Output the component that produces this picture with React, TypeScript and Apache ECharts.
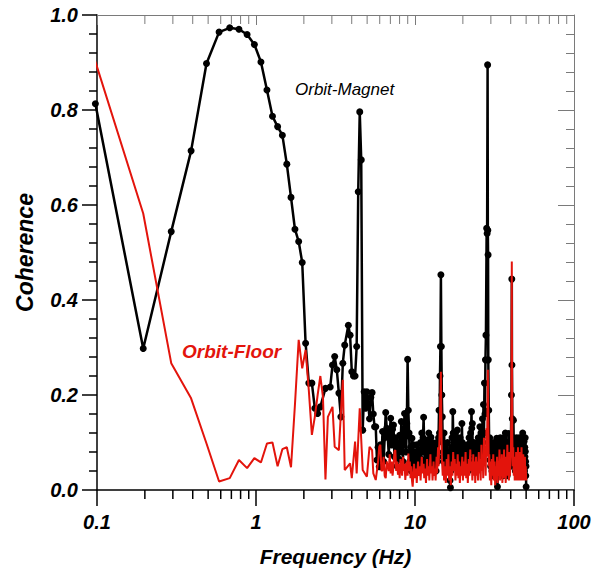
import React, { useEffect, useRef } from "react";
import * as echarts from "echarts";

// Frequency resolution of the spectra (Hz per bin)
const FREQ_STEP_HZ = 0.09766;

const xTickLabels = ["0.1", "1", "10", "100"];
const yTickLabels = ["0.0", "0.2", "0.4", "0.6", "0.8", "1.0"];
const minorFreqTicks = [
  0.2, 0.3, 0.4, 0.5, 0.6, 0.7, 0.8, 0.9,
  2, 3, 4, 5, 6, 7, 8, 9,
  20, 30, 40, 50, 60, 70, 80, 90,
];

// [frequency bin, coherence]
const orbitMagnet: [number, number][] = [
  [1, 0.813], [2, 0.298], [3, 0.544], [4, 0.714], [5, 0.898], [6, 0.964], [7, 0.973], [8, 0.970],
  [9, 0.959], [10, 0.938], [11, 0.901], [12, 0.842], [13, 0.787], [14, 0.765], [15, 0.747], [16, 0.686],
  [17, 0.616], [18, 0.549], [19, 0.523], [20, 0.479], [21, 0.309], [22, 0.225], [23, 0.225], [24, 0.172],
  [25, 0.161], [26, 0.175], [28, 0.214], [30, 0.217], [31, 0.263], [32, 0.281], [33, 0.253], [34, 0.204],
  [35, 0.154], [36, 0.267], [37, 0.305], [39, 0.347], [40, 0.326], [41, 0.249], [42, 0.240], [43, 0.240],
  [44, 0.302], [45, 0.628], [46, 0.796], [47, 0.695], [48, 0.126], [49, 0.207], [50, 0.172], [51, 0.207],
  [52, 0.182], [53, 0.150], [54, 0.195], [55, 0.205], [56, 0.160], [57, 0.133], [58, 0.133], [59, 0.063],
  [60, 0.090], [61, 0.049], [62, 0.095], [63, 0.070], [64, 0.123], [65, 0.060], [66, 0.110], [67, 0.163],
  [68, 0.130], [69, 0.112], [70, 0.075], [71, 0.120], [72, 0.151], [73, 0.095], [74, 0.128], [75, 0.137],
  [76, 0.070], [77, 0.110], [78, 0.091], [79, 0.050], [80, 0.100], [81, 0.065], [82, 0.115], [83, 0.080],
  [84, 0.144], [85, 0.100], [86, 0.060], [87, 0.120], [88, 0.161], [89, 0.112], [90, 0.080], [91, 0.140],
  [92, 0.275], [93, 0.168], [94, 0.120], [95, 0.060], [96, 0.090], [97, 0.040], [98, 0.109], [99, 0.070],
  [100, 0.095], [101, 0.045], [102, 0.080], [103, 0.050], [104, 0.070], [105, 0.095], [106, 0.040], [107, 0.075],
  [108, 0.060], [109, 0.084], [110, 0.045], [111, 0.100], [112, 0.065], [113, 0.120], [114, 0.080], [115, 0.110],
  [116, 0.153], [117, 0.090], [118, 0.060], [119, 0.100], [120, 0.050], [121, 0.080], [122, 0.105], [123, 0.060],
  [124, 0.090], [125, 0.120], [126, 0.070], [127, 0.060], [128, 0.095], [129, 0.111], [130, 0.070], [131, 0.050],
  [132, 0.100], [133, 0.055], [134, 0.085], [135, 0.090], [136, 0.050], [137, 0.080], [138, 0.070], [139, 0.040],
  [140, 0.085], [141, 0.100], [142, 0.060], [143, 0.070], [144, 0.110], [145, 0.168], [146, 0.120], [147, 0.240],
  [148, 0.302], [149, 0.453], [150, 0.302], [151, 0.200], [152, 0.154], [153, 0.100], [154, 0.080], [155, 0.060],
  [156, 0.120], [157, 0.090], [158, 0.060], [159, 0.080], [160, 0.098], [161, 0.070], [162, 0.050], [163, 0.075],
  [164, 0.100], [165, 0.060], [166, 0.040], [167, 0.080], [168, 0.070], [169, 0.040], [170, 0.020], [171, 0.005],
  [172, 0.040], [173, 0.060], [174, 0.090], [175, 0.110], [176, 0.080], [177, 0.165], [178, 0.120], [179, 0.090],
  [180, 0.070], [181, 0.060], [182, 0.100], [183, 0.119], [184, 0.080], [185, 0.070], [186, 0.050], [187, 0.100],
  [188, 0.090], [189, 0.126], [190, 0.080], [191, 0.060], [192, 0.070], [193, 0.100], [194, 0.060], [195, 0.040],
  [196, 0.070], [197, 0.110], [198, 0.080], [199, 0.070], [200, 0.050], [202, 0.140], [203, 0.100], [204, 0.080],
  [205, 0.060], [206, 0.050], [208, 0.080], [209, 0.091], [210, 0.060], [211, 0.040], [213, 0.090], [214, 0.075],
  [215, 0.060], [216, 0.050], [218, 0.095], [219, 0.081], [220, 0.060], [221, 0.040], [223, 0.080], [224, 0.110],
  [225, 0.080], [226, 0.060], [228, 0.100], [229, 0.120], [230, 0.090], [232, 0.165], [233, 0.130], [234, 0.100],
  [235, 0.140], [236, 0.090], [238, 0.060], [239, 0.080], [240, 0.100], [242, 0.070], [243, 0.040], [245, 0.080],
  [246, 0.070], [248, 0.050], [249, 0.080], [250, 0.098], [252, 0.070], [253, 0.060], [255, 0.090], [256, 0.110],
  [258, 0.080], [259, 0.070], [261, 0.100], [262, 0.133], [263, 0.100], [264, 0.080], [266, 0.120], [267, 0.110],
  [268, 0.080], [269, 0.060], [271, 0.110], [272, 0.150], [274, 0.100], [276, 0.180], [278, 0.120], [280, 0.225],
  [282, 0.160], [284, 0.274], [286, 0.326], [289, 0.551], [291, 0.540], [293, 0.895], [294, 0.547], [295, 0.495],
  [296, 0.274], [298, 0.168], [300, 0.090], [302, 0.110], [303, 0.063], [305, 0.080], [306, 0.050], [308, 0.090],
  [309, 0.100], [311, 0.070], [312, 0.040], [314, 0.080], [315, 0.063], [317, 0.090], [318, 0.030], [320, 0.070],
  [321, 0.080], [323, 0.100], [324, 0.050], [326, 0.070], [327, 0.090], [329, 0.060], [330, 0.040], [332, 0.090],
  [334, 0.109], [336, 0.050], [338, 0.007], [340, 0.050], [341, 0.060], [343, 0.100], [344, 0.090], [346, 0.060],
  [347, 0.040], [349, 0.090], [350, 0.080], [352, 0.110], [355, 0.105], [357, 0.070], [358, 0.050], [360, 0.090],
  [362, 0.070], [364, 0.100], [366, 0.030], [368, 0.070], [370, 0.080], [372, 0.110], [374, 0.050], [376, 0.090],
  [377, 0.081], [379, 0.120], [381, 0.040], [383, 0.080], [385, 0.070], [387, 0.100], [389, 0.030], [391, 0.090],
  [393, 0.080], [395, 0.100], [398, 0.119], [400, 0.080], [401, 0.060], [403, 0.100], [405, 0.090], [407, 0.070],
  [408, 0.050], [410, 0.080], [411, 0.110], [414, 0.200], [416, 0.444], [417, 0.263], [419, 0.150], [421, 0.100],
  [422, 0.080], [424, 0.110], [426, 0.147], [428, 0.090], [430, 0.060], [432, 0.080], [434, 0.100], [436, 0.070],
  [438, 0.040], [440, 0.080], [442, 0.080], [444, 0.110], [446, 0.050], [448, 0.090], [450, 0.081], [452, 0.063],
  [454, 0.100], [456, 0.040], [458, 0.080], [460, 0.090], [462, 0.110], [464, 0.050], [466, 0.070], [468, 0.080],
  [470, 0.100], [472, 0.030], [474, 0.080], [476, 0.070], [478, 0.110], [480, 0.040], [482, 0.090], [485, 0.080],
  [487, 0.120], [489, 0.105], [491, 0.070], [493, 0.060], [495, 0.090], [497, 0.102], [499, 0.070], [500, 0.040],
  [502, 0.090], [503, 0.070], [505, 0.110], [506, 0.081], [508, 0.060], [509, 0.030], [511, 0.050], [512, 0.007],
];

// [frequency bin, coherence]
const orbitFloor: [number, number][] = [
  [1, 0.902], [2, 0.582], [3, 0.267], [4, 0.193], [5, 0.098], [6, 0.018], [7, 0.025], [8, 0.063],
  [9, 0.046], [10, 0.067], [11, 0.058], [12, 0.098], [13, 0.100], [14, 0.050], [15, 0.086], [16, 0.090],
  [17, 0.048], [18, 0.180], [19, 0.316], [20, 0.256], [21, 0.295], [22, 0.210], [23, 0.116], [24, 0.154],
  [25, 0.200], [26, 0.240], [27, 0.196], [28, 0.022], [29, 0.154], [31, 0.175], [32, 0.091], [34, 0.084],
  [35, 0.161], [36, 0.232], [37, 0.042], [40, 0.056], [41, 0.025], [43, 0.102], [44, 0.035], [46, 0.172],
  [48, 0.042], [51, 0.028], [53, 0.091], [55, 0.084], [56, 0.035], [58, 0.021], [60, 0.060], [61, 0.091],
  [62, 0.095], [63, 0.040], [64, 0.042], [65, 0.070], [66, 0.030], [67, 0.025], [68, 0.060], [70, 0.040],
  [71, 0.075], [72, 0.035], [73, 0.060], [74, 0.030], [75, 0.050], [76, 0.081], [77, 0.084], [78, 0.040],
  [79, 0.060], [80, 0.032], [81, 0.055], [82, 0.025], [83, 0.065], [84, 0.049], [85, 0.030], [86, 0.070],
  [87, 0.040], [88, 0.055], [89, 0.021], [90, 0.045], [91, 0.060], [92, 0.030], [93, 0.077], [94, 0.040],
  [95, 0.060], [96, 0.025], [97, 0.050], [98, 0.020], [99, 0.007], [100, 0.030], [101, 0.055], [102, 0.025],
  [104, 0.045], [105, 0.015], [107, 0.060], [108, 0.030], [110, 0.050], [111, 0.020], [113, 0.070], [114, 0.035],
  [116, 0.055], [117, 0.025], [119, 0.045], [120, 0.015], [122, 0.065], [123, 0.030], [125, 0.050], [126, 0.020],
  [128, 0.075], [129, 0.035], [131, 0.050], [132, 0.020], [134, 0.060], [135, 0.030], [137, 0.045], [138, 0.020],
  [140, 0.070], [141, 0.035], [143, 0.090], [144, 0.050], [146, 0.110], [147, 0.150], [148, 0.200], [149, 0.249],
  [150, 0.140], [151, 0.070], [153, 0.030], [155, 0.060], [156, 0.020], [158, 0.050], [160, 0.015], [162, 0.065],
  [164, 0.030], [166, 0.075], [168, 0.020], [170, 0.050], [172, 0.010], [174, 0.060], [176, 0.030], [178, 0.080],
  [180, 0.040], [182, 0.065], [184, 0.020], [186, 0.055], [188, 0.030], [190, 0.075], [192, 0.025], [194, 0.060],
  [196, 0.015], [198, 0.050], [200, 0.030], [203, 0.070], [205, 0.020], [208, 0.060], [210, 0.030], [213, 0.080],
  [215, 0.025], [218, 0.055], [220, 0.015], [223, 0.065], [225, 0.030], [228, 0.085], [230, 0.040], [233, 0.060],
  [235, 0.020], [238, 0.075], [240, 0.030], [243, 0.060], [245, 0.015], [248, 0.070], [250, 0.030], [253, 0.060],
  [255, 0.020], [258, 0.080], [260, 0.035], [263, 0.065], [265, 0.020], [268, 0.095], [270, 0.040], [273, 0.070],
  [275, 0.025], [278, 0.110], [280, 0.050], [283, 0.090], [285, 0.030], [288, 0.130], [290, 0.070], [292, 0.150],
  [294, 0.253], [296, 0.140], [298, 0.050], [300, 0.075], [303, 0.020], [306, 0.060], [309, 0.010], [312, 0.065],
  [315, 0.030], [318, 0.075], [321, 0.020], [324, 0.060], [327, 0.010], [330, 0.050], [333, 0.020], [336, 0.070],
  [339, 0.015], [342, 0.060], [345, 0.030], [348, 0.085], [351, 0.020], [354, 0.060], [357, 0.030], [360, 0.075],
  [363, 0.015], [366, 0.065], [369, 0.025], [372, 0.085], [375, 0.030], [378, 0.060], [381, 0.015], [384, 0.070],
  [387, 0.030], [390, 0.095], [393, 0.040], [396, 0.070], [399, 0.020], [402, 0.080], [405, 0.030], [408, 0.060],
  [411, 0.090], [414, 0.200], [416, 0.481], [417, 0.300], [419, 0.110], [422, 0.050], [425, 0.090], [428, 0.030],
  [431, 0.070], [434, 0.020], [437, 0.060], [440, 0.030], [443, 0.080], [446, 0.020], [449, 0.065], [452, 0.030],
  [455, 0.090], [458, 0.020], [461, 0.060], [464, 0.030], [467, 0.080], [470, 0.020], [473, 0.070], [476, 0.030],
  [479, 0.090], [482, 0.020], [485, 0.060], [488, 0.030], [491, 0.075], [494, 0.020], [497, 0.060], [500, 0.035],
  [503, 0.070], [506, 0.020], [509, 0.050], [512, 0.020],
];

const FONT = "'Liberation Sans', Arial, Helvetica, sans-serif";
const RED = "#e3140c";
const FRAME_GREY = "#7a7a7a";

export default function App() {
  const ref = useRef<HTMLDivElement>(null);

  useEffect(() => {
    if (!ref.current) return;
    const chart = echarts.init(ref.current, undefined, { renderer: "svg" });

    const labelStyle = {
      fontFamily: FONT,
      fontSize: 20,
      fontWeight: "bold" as const,
      fontStyle: "italic" as const,
      color: "#000",
    };

    const option: any = {
      animation: false,
      backgroundColor: "#ffffff",
      grid: { left: 97, right: 20, top: 15, bottom: 86, containLabel: false },
      xAxis: [
        {
          type: "log",
          logBase: 10,
          min: 0.1,
          max: 100,
          splitNumber: 3,
          position: "bottom",
          axisLine: { show: true, onZero: false, lineStyle: { color: "#000", width: 1.5 } },
          axisTick: { show: true, inside: false, length: 16, lineStyle: { color: "#000", width: 1.5 } },
          splitLine: { show: false },
          axisLabel: {
            ...labelStyle,
            margin: 22,
            formatter: (v: number) => xTickLabels[Math.round(Math.log10(v)) + 1] ?? "",
          },
          name: "Frequency (Hz)",
          nameLocation: "middle",
          nameGap: 56,
          nameTextStyle: { ...labelStyle, fontSize: 21 },
        },
        {
          type: "log",
          logBase: 10,
          min: 0.1,
          max: 100,
          splitNumber: 3,
          position: "top",
          axisLine: { show: true, onZero: false, lineStyle: { color: FRAME_GREY, width: 1 } },
          axisTick: { show: true, inside: true, length: 10, lineStyle: { color: FRAME_GREY, width: 1 } },
          splitLine: { show: false },
          axisLabel: { show: false },
        },
      ],
      yAxis: [
        {
          type: "value",
          min: 0,
          max: 1,
          interval: 0.2,
          position: "left",
          axisLine: { show: true, onZero: false, lineStyle: { color: "#000", width: 1.5 } },
          axisTick: { show: true, inside: false, length: 15, lineStyle: { color: "#000", width: 1.5 } },
          minorTick: { show: true, splitNumber: 5, length: 8, lineStyle: { color: "#000", width: 1.5 } },
          splitLine: { show: false },
          minorSplitLine: { show: false },
          axisLabel: {
            ...labelStyle,
            margin: 19,
            formatter: (v: number) => yTickLabels[Math.round(v * 5)] ?? "",
          },
          name: "Coherence",
          nameLocation: "middle",
          nameGap: 61,
          nameTextStyle: { ...labelStyle, fontSize: 23 },
        },
        {
          type: "value",
          min: 0,
          max: 1,
          interval: 0.2,
          position: "right",
          axisLine: { show: true, onZero: false, lineStyle: { color: FRAME_GREY, width: 1 } },
          axisTick: { show: true, inside: true, length: 16, lineStyle: { color: FRAME_GREY, width: 1 } },
          minorTick: { show: true, splitNumber: 5, length: 8, lineStyle: { color: FRAME_GREY, width: 1 } },
          splitLine: { show: false },
          axisLabel: { show: false },
        },
      ],
      series: [
        {
          type: "custom",
          name: "minor-x-ticks",
          xAxisIndex: 0,
          yAxisIndex: 0,
          silent: true,
          clip: false,
          z: 1,
          data: minorFreqTicks.map((f) => [f, 0]),
          encode: { x: 0, y: 1 },
          renderItem: (_params: any, api: any) => {
            const f = api.value(0);
            const bottom = api.coord([f, 0]);
            const top = api.coord([f, 1]);
            return {
              type: "group",
              children: [
                {
                  type: "line",
                  shape: { x1: bottom[0], y1: bottom[1], x2: bottom[0], y2: bottom[1] + 9 },
                  style: { stroke: "#000", lineWidth: 1.5 },
                },
                {
                  type: "line",
                  shape: { x1: top[0], y1: top[1], x2: top[0], y2: top[1] + 9 },
                  style: { stroke: FRAME_GREY, lineWidth: 1 },
                },
              ],
            };
          },
        },
        {
          type: "line",
          name: "Orbit-Magnet",
          xAxisIndex: 0,
          yAxisIndex: 0,
          data: orbitMagnet.map(([k, v]) => [k * FREQ_STEP_HZ, v]),
          symbol: "circle",
          symbolSize: 7,
          showSymbol: true,
          showAllSymbol: true,
          clip: false,
          itemStyle: { color: "#000" },
          lineStyle: { color: "#000", width: 2.5 },
          z: 2,
        },
        {
          type: "line",
          name: "Orbit-Floor",
          xAxisIndex: 0,
          yAxisIndex: 0,
          data: orbitFloor.map(([k, v]) => [k * FREQ_STEP_HZ, v]),
          symbol: "none",
          clip: false,
          lineStyle: { color: RED, width: 2 },
          z: 3,
        },
      ],
      graphic: [
        {
          type: "text",
          x: 295,
          y: 89,
          style: {
            text: "Orbit-Magnet",
            fontFamily: FONT,
            fontSize: 17,
            fontStyle: "italic",
            fill: "#000",
            textAlign: "left",
            textVerticalAlign: "middle",
            align: "left",
            verticalAlign: "middle",
          },
        },
        {
          type: "text",
          x: 182,
          y: 351,
          style: {
            text: "Orbit-Floor",
            fontFamily: FONT,
            fontSize: 19,
            fontStyle: "italic",
            fontWeight: "bold",
            fill: RED,
            textAlign: "left",
            textVerticalAlign: "middle",
            align: "left",
            verticalAlign: "middle",
          },
        },
      ],
    };

    chart.setOption(option);
    return () => chart.dispose();
  }, []);

  return (
    <div
      ref={ref}
      style={{ position: "absolute", left: 0, top: 0, width: 594, height: 576 }}
    />
  );
}
